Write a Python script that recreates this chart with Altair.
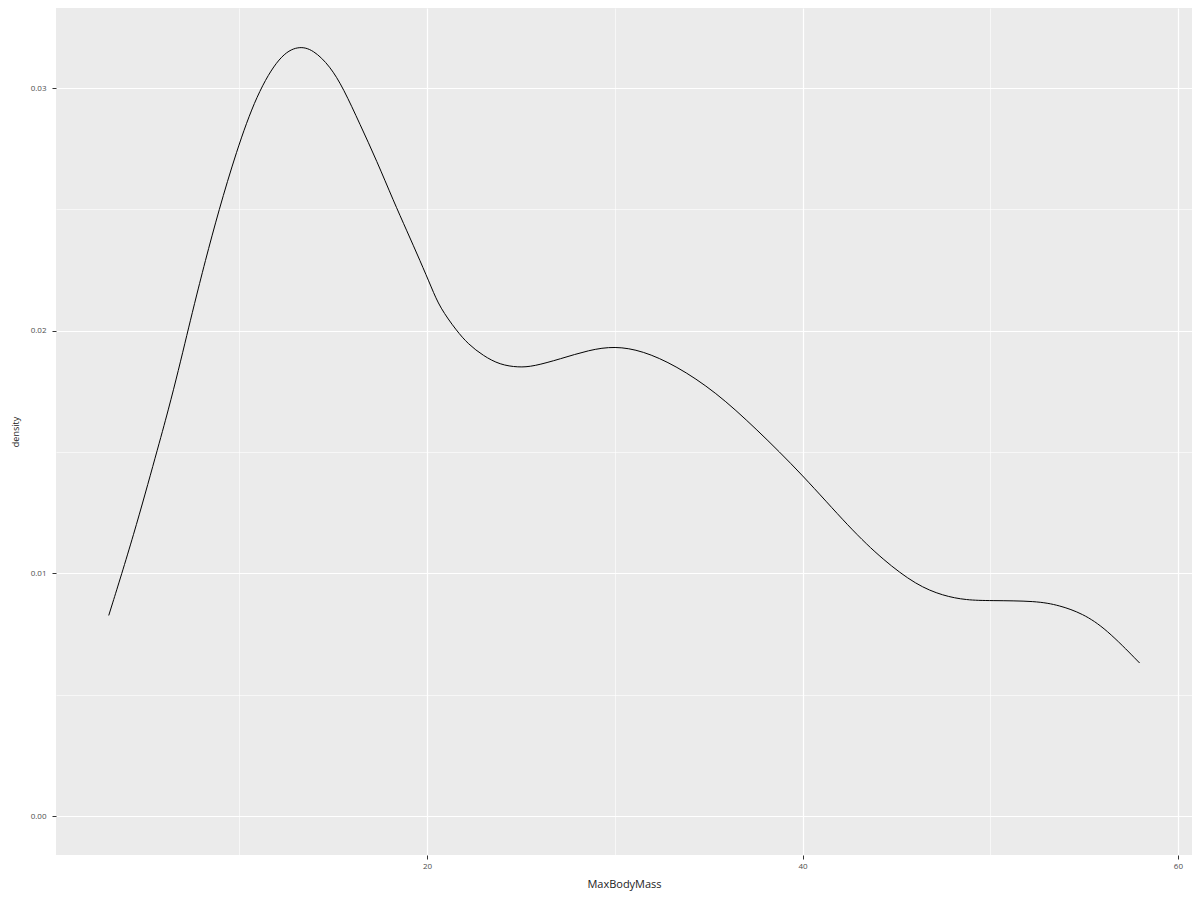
import altair as alt
import pandas as pd

# Density curve
max_body_mass = [3.04, 4.37, 5.61, 6.22, 6.76, 7.21, 7.57, 8.17, 8.90, 9.82, 10.92, 12.16, 13.14,
                 13.94, 14.83, 15.54, 16.43, 17.32, 18.21, 18.92, 19.63, 20.25, 20.68, 21.57, 22.19,
                 22.99, 23.88, 24.86, 25.66, 27.09, 28.63, 30.0, 31.47, 33.25, 35.38, 37.51, 40.0,
                 42.53, 44.3, 46.07, 47.49, 48.73, 50.0, 52.44, 53.68, 54.92, 56.16, 57.96]
density = [0.00827, 0.01157, 0.01504, 0.01675, 0.01840, 0.01985, 0.02100, 0.02285, 0.02495, 0.02735,
           0.02975, 0.03136, 0.03175, 0.03158, 0.03090, 0.02999, 0.02850, 0.02700, 0.02535, 0.02412,
           0.02288, 0.02175, 0.02096, 0.02000, 0.01945, 0.01897, 0.01860, 0.01849, 0.01853, 0.01884,
           0.01921, 0.01937, 0.01918, 0.01857, 0.01748, 0.01598, 0.01407, 0.01186, 0.01055, 0.00952,
           0.00908, 0.00890, 0.00888, 0.00887, 0.00869, 0.00835, 0.00773, 0.00631]

x_ticks = [10, 20, 30, 40, 50, 60]
y_ticks = [0.0, 0.005, 0.01, 0.015, 0.02, 0.025, 0.03]

df = pd.DataFrame({"MaxBodyMass": max_body_mass, "density": density})

x_axis = alt.Axis(
    values=x_ticks,
    labelExpr="datum.value % 20 === 0 ? datum.label : ''",
    grid=True,
    gridColor="white",
    gridWidth={"condition": {"test": "datum.value % 20 === 0", "value": 1.2}, "value": 0.6},
    tickOpacity={"condition": {"test": "datum.value % 20 === 0", "value": 1}, "value": 0},
    tickColor="#333333",
    tickSize=4,
    tickWidth=1,
    domain=False,
    labelFont="Open Sans",
    labelFontSize=8,
    labelColor="#4D4D4D",
    labelPadding=3,
    title="MaxBodyMass",
    titleFont="Open Sans",
    titleFontSize=11,
    titleFontWeight="normal",
    titleColor="#222222",
    titlePadding=8,
)

y_axis = alt.Axis(
    values=y_ticks,
    labelExpr="round(datum.value * 200) % 2 === 0 ? format(datum.value, '.2f') : ''",
    grid=True,
    gridColor="white",
    gridWidth={"condition": {"test": "round(datum.value * 200) % 2 === 0", "value": 1.2}, "value": 0.6},
    tickOpacity={"condition": {"test": "round(datum.value * 200) % 2 === 0", "value": 1}, "value": 0},
    tickColor="#333333",
    tickSize=4,
    tickWidth=1,
    domain=False,
    labelFont="Open Sans",
    labelFontSize=8,
    labelColor="#4D4D4D",
    labelPadding=6,
    title="density",
    titleFont="Open Sans",
    titleFontSize=9,
    titleFontWeight="normal",
    titleColor="#222222",
    titlePadding=10,
)

chart = (
    alt.Chart(df)
    .mark_line(color="black", strokeWidth=1, interpolate="basis")
    .encode(
        x=alt.X("MaxBodyMass:Q", scale=alt.Scale(domain=[0.23, 60.75], nice=False, zero=False), axis=x_axis),
        y=alt.Y("density:Q", scale=alt.Scale(domain=[-0.0016, 0.0333], nice=False, zero=False), axis=y_axis),
    )
    .properties(
        width=1136,
        height=847,
        autosize=alt.AutoSizeParams(type="none"),
        padding={"left": 48, "top": 0, "right": 0, "bottom": 40},
        background="white",
    )
    .configure_view(fill="#EBEBEB", stroke=None)
)

chart.save("out.html", embed_options={"renderer": "svg", "actions": False})
